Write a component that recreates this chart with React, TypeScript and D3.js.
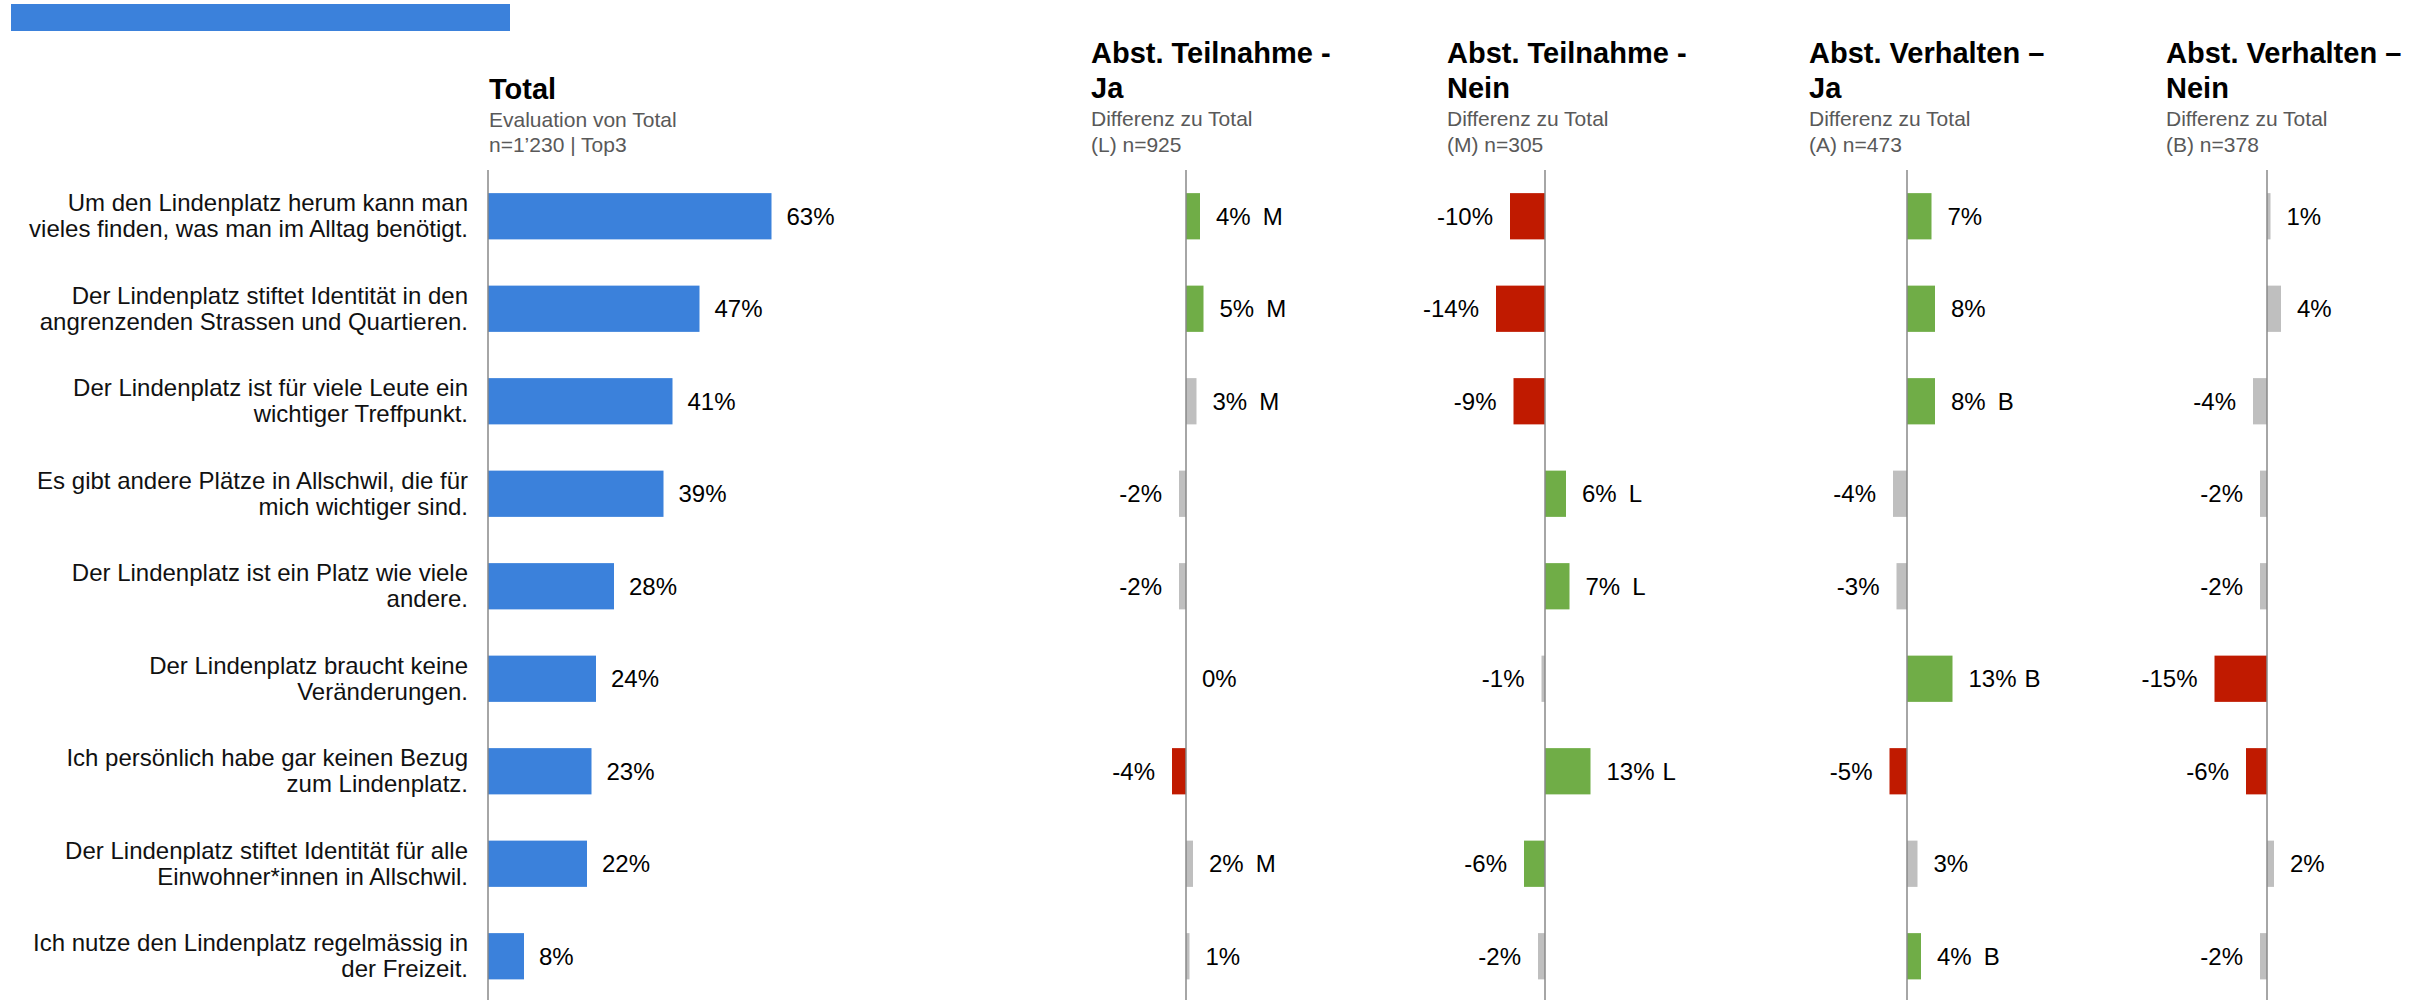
import React from "react";
import * as d3 from "d3";

// ---------- data ----------
const CATEGORY_LINES: string[][] = [
  ["Um den Lindenplatz herum kann man", "vieles finden, was man im Alltag benötigt."],
  ["Der Lindenplatz stiftet Identität in den", "angrenzenden Strassen und Quartieren."],
  ["Der Lindenplatz ist für viele Leute ein", "wichtiger Treffpunkt."],
  ["Es gibt andere Plätze in Allschwil, die für", "mich wichtiger sind."],
  ["Der Lindenplatz ist ein Platz wie viele", "andere."],
  ["Der Lindenplatz braucht keine", "Veränderungen."],
  ["Ich persönlich habe gar keinen Bezug", "zum Lindenplatz."],
  ["Der Lindenplatz stiftet Identität für alle", "Einwohner*innen in Allschwil."],
  ["Ich nutze den Lindenplatz regelmässig in", "der Freizeit."],
];

const TOTAL_VALUES = [63, 47, 41, 39, 28, 24, 23, 22, 8];
const TOTAL_TITLE = "Total";
const TOTAL_SUB = ["Evaluation von Total", "n=1’230 | Top3"];

const TN_JA_VALUES = [4, 5, 3, -2, -2, 0, -4, 2, 1];
const TN_JA_SIG = ["M", "M", "M", "", "", "", "", "M", ""];
const TN_JA_STATUS = ["g", "g", "n", "n", "n", "n", "r", "n", "n"];

const TN_NEIN_VALUES = [-10, -14, -9, 6, 7, -1, 13, -6, -2];
const TN_NEIN_SIG = ["", "", "", "L", "L", "", "L", "", ""];
const TN_NEIN_STATUS = ["r", "r", "r", "g", "g", "n", "g", "g", "n"];

const VH_JA_VALUES = [7, 8, 8, -4, -3, 13, -5, 3, 4];
const VH_JA_SIG = ["", "", "B", "", "", "B", "", "", "B"];
const VH_JA_STATUS = ["g", "g", "g", "n", "n", "g", "r", "n", "g"];

const VH_NEIN_VALUES = [1, 4, -4, -2, -2, -15, -6, 2, -2];
const VH_NEIN_SIG = ["", "", "", "", "", "", "", "", ""];
const VH_NEIN_STATUS = ["n", "n", "n", "n", "n", "r", "r", "n", "n"];

const PANEL_TITLES = [
  ["Abst. Teilnahme -", "Ja"],
  ["Abst. Teilnahme -", "Nein"],
  ["Abst. Verhalten –", "Ja"],
  ["Abst. Verhalten –", "Nein"],
];
const PANEL_SUBS = [
  ["Differenz zu Total", "(L) n=925"],
  ["Differenz zu Total", "(M) n=305"],
  ["Differenz zu Total", "(A) n=473"],
  ["Differenz zu Total", "(B) n=378"],
];

// ---------- layout ----------
const W = 2430;
const H = 1000;
const FONT = "'Liberation Sans', Arial, Helvetica, sans-serif";
const BLUE = "#3B81DB";
const STATUS_COLOR: Record<string, string> = { g: "#70AD47", r: "#C01A00", n: "#BFBFBF" };
const PANEL_TITLE_X = [1091, 1447, 1809, 2166];
const PANEL_AXIS_X = [1186, 1545, 1907, 2267];
const TOTAL_AXIS_X = 488;

const panels = [
  { values: TN_JA_VALUES, sig: TN_JA_SIG, status: TN_JA_STATUS },
  { values: TN_NEIN_VALUES, sig: TN_NEIN_SIG, status: TN_NEIN_STATUS },
  { values: VH_JA_VALUES, sig: VH_JA_SIG, status: VH_JA_STATUS },
  { values: VH_NEIN_VALUES, sig: VH_NEIN_SIG, status: VH_NEIN_STATUS },
];

export default function App() {
  const idx = d3.range(CATEGORY_LINES.length).map(String);
  const y = d3.scaleBand<string>().domain(idx).range([170, 1002.5]).paddingInner(0.5).paddingOuter(0.25);
  const bw = y.bandwidth();
  const xTotal = d3.scaleLinear().domain([0, 100]).range([TOTAL_AXIS_X, TOTAL_AXIS_X + 450]);

  return (
    <svg
      width={W}
      height={H}
      viewBox={`0 0 ${W} ${H}`}
      style={{ position: "absolute", left: 0, top: 0, background: "#fff" }}
      fontFamily={FONT}
    >
      <rect x={11} y={4} width={499} height={27} fill={BLUE} />

      {/* Total header */}
      <text x={489} y={99} fontSize={29} fontWeight="bold" fill="#000">{TOTAL_TITLE}</text>
      {TOTAL_SUB.map((s, i) => (
        <text key={i} x={489} y={127 + i * 25} fontSize={21} fill="#595959">{s}</text>
      ))}

      {/* category labels */}
      {CATEGORY_LINES.map((lines, i) => {
        const c = (y(String(i)) as number) + bw / 2;
        return (
          <text key={i} x={468} textAnchor="end" fontSize={24} fill="#111">
            <tspan x={468} y={c - 5}>{lines[0]}</tspan>
            <tspan x={468} y={c + 21}>{lines[1]}</tspan>
          </text>
        );
      })}

      {/* Total bars */}
      {TOTAL_VALUES.map((v, i) => {
        const top = y(String(i)) as number;
        return (
          <g key={i}>
            <rect x={xTotal(0)} y={top} width={xTotal(v) - xTotal(0)} height={bw} fill={BLUE} />
            <text x={xTotal(v) + 15} y={top + bw / 2 + 8.5} fontSize={24} fill="#000">{v}%</text>
          </g>
        );
      })}
      <line x1={TOTAL_AXIS_X} x2={TOTAL_AXIS_X} y1={170} y2={H} stroke="#888" strokeWidth={1.5} />

      {/* diff panels */}
      {panels.map((p, pi) => {
        const ax = PANEL_AXIS_X[pi];
        const x = d3.scaleLinear().domain([-20, 20]).range([ax - 70, ax + 70]);
        const tx = PANEL_TITLE_X[pi];
        return (
          <g key={pi}>
            {PANEL_TITLES[pi].map((t, i) => (
              <text key={"t" + i} x={tx} y={63 + i * 35} fontSize={29} fontWeight="bold" fill="#000">{t}</text>
            ))}
            {PANEL_SUBS[pi].map((t, i) => (
              <text key={"s" + i} x={tx} y={126 + i * 26} fontSize={21} fill="#595959">{t}</text>
            ))}
            {p.values.map((v, i) => {
              const top = y(String(i)) as number;
              const x0 = Math.min(x(0), x(v));
              const w = Math.abs(x(v) - x(0));
              const label = `${v}%`;
              const base = top + bw / 2 + 8.5;
              return (
                <g key={i}>
                  <rect x={x0} y={top} width={w} height={bw} fill={STATUS_COLOR[p.status[i]]} />
                  {v < 0 ? (
                    <text x={x(v) - 17} y={base} textAnchor="end" fontSize={24} fill="#000">{label}</text>
                  ) : (
                    <text x={x(v) + 16} y={base} fontSize={24} fill="#000">
                      {label}
                      {p.sig[i] ? <tspan dx={label.length > 2 ? 8 : 12}>{p.sig[i]}</tspan> : null}
                    </text>
                  )}
                </g>
              );
            })}
            <line x1={ax} x2={ax} y1={170} y2={H} stroke="#888" strokeWidth={1.5} />
          </g>
        );
      })}
    </svg>
  );
}
